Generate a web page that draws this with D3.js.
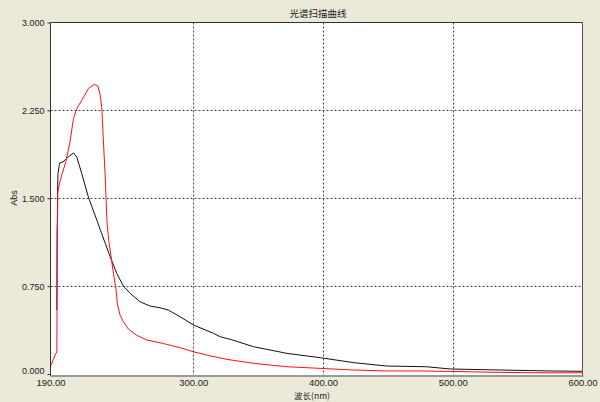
<!DOCTYPE html>
<html><head><meta charset="utf-8">
<script src="https://cdn.jsdelivr.net/npm/d3@7"></script>
<style>
html,body{margin:0;padding:0;background:#ECE9D8;}
svg{display:block;}
text{font-family:"Liberation Sans",Arial,sans-serif;fill:#222;}
</style></head>
<body>
<svg id="c" width="600" height="402"></svg>
<script>
const title = "光谱扫描曲线";
const xLabel = "波长(nm)";
const yLabel = "Abs";
const xTicks = [190, 300, 400, 500, 600];
const yTicks = [0, 0.75, 1.5, 2.25, 3.0];

const redX = [190.2,193.5,194.9,195.2,195.6,197,198.7,201.8,205,207.7,210.3,214.1,219.2,222,223.9,225.2,226.5,228.3,229.6,230.8,232.1,233.5,235,236.2,238.5,240.5,241.5,243.7,246.2,250,256.5,264.3,277,290,300,313,326,346.5,372.3,398,423.6,449,475,498,536.7,575,600];
const redY = [0.07,0.16,0.19,1.0,1.55,1.63,1.70,1.81,1.98,2.18,2.265,2.336,2.435,2.46,2.472,2.465,2.458,2.38,2.265,1.98,1.70,1.30,1.13,1.04,0.86,0.72,0.60,0.50,0.446,0.384,0.33,0.29,0.26,0.224,0.19,0.155,0.125,0.091,0.062,0.048,0.034,0.026,0.026,0.022,0.014,0.01,0.01];

const blackX = [194.9,195.1,195.3,195.5,195.8,197,199.6,203.4,207.7,210.3,214.1,219.2,225.7,228.3,232.1,236,241.1,246.2,251.4,259.1,266.8,274.5,280.9,290,300.2,315.6,320.8,328.5,346.5,372.3,398,423.6,449,479.6,498,536.7,575,600];
const blackY = [0.545,1.25,1.30,1.61,1.71,1.80,1.81,1.85,1.887,1.85,1.71,1.51,1.313,1.234,1.118,1.0,0.858,0.75,0.688,0.616,0.58,0.565,0.545,0.488,0.418,0.347,0.318,0.296,0.233,0.176,0.139,0.097,0.068,0.062,0.043,0.034,0.026,0.023];

const svg = d3.select("#c");
const L = 50.5, R = 582.5, T = 22.5, B = 374;
const x = d3.scaleLinear().domain([190, 600]).range([L, R]);
const y = d3.scaleLinear().domain([0, 3]).range([B, T]);

svg.append("rect").attr("x", L).attr("y", T).attr("width", R - L).attr("height", 376 - T).attr("fill", "#fff");

// grid
const grid = svg.append("g").attr("stroke", "#444").attr("stroke-width", 1).attr("stroke-dasharray", "2,2");
xTicks.slice(1, -1).forEach(v => {
  const px = Math.round(x(v)) + 0.5;
  grid.append("line").attr("x1", px).attr("x2", px).attr("y1", T).attr("y2", 376);
});
yTicks.slice(1, -1).forEach(v => {
  const py = Math.round(y(v)) + 0.5;
  grid.append("line").attr("x1", L).attr("x2", R).attr("y1", py).attr("y2", py);
});

// lines
const line = d3.line().x(d => x(d[0])).y(d => y(d[1]));
svg.append("path").datum(blackX.map((v, i) => [v, blackY[i]]))
  .attr("d", line).attr("fill", "none").attr("stroke", "#111").attr("stroke-width", 1);
svg.append("path").datum(redX.map((v, i) => [v, redY[i]]))
  .attr("d", line).attr("fill", "none").attr("stroke", "#ff1010").attr("stroke-width", 1);

// frame
svg.append("line").attr("x1", L).attr("x2", R).attr("y1", T).attr("y2", T).attr("stroke", "#333");
svg.append("line").attr("x1", L).attr("x2", L).attr("y1", T).attr("y2", 376).attr("stroke", "#333");
svg.append("line").attr("x1", R).attr("x2", R).attr("y1", T).attr("y2", 376).attr("stroke", "#555");
svg.append("line").attr("x1", L).attr("x2", R + 1).attr("y1", 376).attr("y2", 376).attr("stroke", "#999").attr("stroke-width", 2);

// y axis
const ya = svg.append("g").attr("transform", `translate(${L},0)`)
  .call(d3.axisLeft(y).tickValues(yTicks).tickSize(3).tickPadding(3).tickFormat(d3.format(".3f")));
ya.select(".domain").remove();
ya.selectAll("line").attr("stroke", "#333");
ya.selectAll("text").style("font-size", "9px").attr("font-family", null)
  .attr("dy", d => d === 0 ? "-0.05em" : "0.32em");

// x axis
const xa = svg.append("g").attr("transform", `translate(0,376)`)
  .call(d3.axisBottom(x).tickValues(xTicks).tickSize(0).tickPadding(3).tickFormat(d3.format(".2f")));
xa.select(".domain").remove();
xa.selectAll("text").style("font-size", "9.5px").attr("font-family", null);

svg.append("text").attr("x", 318).attr("y", 17).attr("text-anchor", "middle")
  .style("font-family", "'Noto Sans CJK SC',sans-serif").style("font-size", "9.5px").text(title);
svg.append("text").attr("x", 312).attr("y", 399).attr("text-anchor", "middle")
  .style("font-family", "'Noto Sans CJK SC',sans-serif").style("font-size", "8.5px").text(xLabel);
svg.append("text").attr("transform", "translate(17,198) rotate(-90)").attr("text-anchor", "middle")
  .style("font-size", "9px").text(yLabel);
</script>
</body></html>
